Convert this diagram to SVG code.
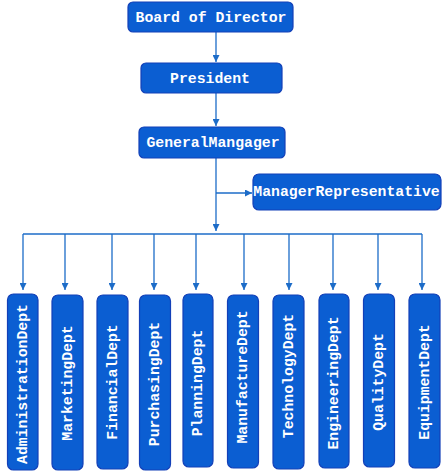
<svg xmlns="http://www.w3.org/2000/svg" width="447" height="473" viewBox="0 0 447 473">
<style>
.box{fill:#0b5ed2;stroke:#1340b8;stroke-width:1.2}
.t{fill:#fff;font-family:"Liberation Mono",monospace;font-weight:bold;font-size:14.8px;text-anchor:middle;dominant-baseline:central}
.ln{stroke:#1d6cc8;stroke-width:1.3;fill:none}
</style>
<defs>
<marker id="ah" viewBox="0 0 10 10" refX="10" refY="5" markerWidth="7" markerHeight="7" markerUnits="userSpaceOnUse" orient="auto">
<path d="M0,0 L10,5 L0,10 z" fill="#1d6cc8"/>
</marker>
</defs>
<rect width="447" height="473" fill="#fff"/>
<g id="connectors">
<line class="ln" x1="216" y1="32" x2="216" y2="62" marker-end="url(#ah)"/>
<line class="ln" x1="216" y1="93" x2="216" y2="126" marker-end="url(#ah)"/>
<line class="ln" x1="216" y1="158" x2="216" y2="231" marker-end="url(#ah)"/>
<line class="ln" x1="216" y1="193" x2="252" y2="193" marker-end="url(#ah)"/>
<line class="ln" x1="23" y1="234" x2="422" y2="234"/>
<line class="ln" x1="23" y1="234" x2="23" y2="290" marker-end="url(#ah)"/>
<line class="ln" x1="65" y1="234" x2="65" y2="290" marker-end="url(#ah)"/>
<line class="ln" x1="112" y1="234" x2="112" y2="290" marker-end="url(#ah)"/>
<line class="ln" x1="154" y1="234" x2="154" y2="290" marker-end="url(#ah)"/>
<line class="ln" x1="196" y1="234" x2="196" y2="290" marker-end="url(#ah)"/>
<line class="ln" x1="244" y1="234" x2="244" y2="290" marker-end="url(#ah)"/>
<line class="ln" x1="289" y1="234" x2="289" y2="290" marker-end="url(#ah)"/>
<line class="ln" x1="333" y1="234" x2="333" y2="290" marker-end="url(#ah)"/>
<line class="ln" x1="378" y1="234" x2="378" y2="290" marker-end="url(#ah)"/>
<line class="ln" x1="422" y1="234" x2="422" y2="290" marker-end="url(#ah)"/>
</g>
<g id="board"><rect class="box" x="128" y="2" width="165" height="30" rx="5"/><text class="t" x="211" y="17.5">Board of Director</text></g>
<g id="president"><rect class="box" x="141" y="63" width="141" height="30" rx="5"/><text class="t" x="210" y="78.5">President</text></g>
<g id="gm"><rect class="box" x="139" y="127" width="146" height="31" rx="5"/><text class="t" x="213" y="142.5">GeneralMangager</text></g>
<g id="mr"><rect class="box" x="253" y="174" width="188" height="36" rx="6"/><text class="t" x="346.5" y="192">ManagerRepresentative</text></g>
<g id="d1"><rect class="box" x="7.5" y="294" width="30.5" height="176" rx="6"/><text class="t" transform="translate(23,384) rotate(-90)">AdministrationDept</text></g>
<g id="d2"><rect class="box" x="52" y="295" width="31" height="175" rx="6"/><text class="t" transform="translate(67.5,383) rotate(-90)">MarketingDept</text></g>
<g id="d3"><rect class="box" x="97" y="295" width="31" height="174" rx="6"/><text class="t" transform="translate(112.5,382) rotate(-90)">FinancialDept</text></g>
<g id="d4"><rect class="box" x="139.5" y="295" width="31" height="175" rx="6"/><text class="t" transform="translate(155,384) rotate(-90)">PurchasingDept</text></g>
<g id="d5"><rect class="box" x="183" y="294" width="30" height="173" rx="6"/><text class="t" transform="translate(198,383) rotate(-90)">PlanningDept</text></g>
<g id="d6"><rect class="box" x="227.5" y="295" width="31" height="173" rx="6"/><text class="t" transform="translate(243,377) rotate(-90)">ManufactureDept</text></g>
<g id="d7"><rect class="box" x="273" y="295" width="31" height="174" rx="6"/><text class="t" transform="translate(288.5,376) rotate(-90)">TechnologyDept</text></g>
<g id="d8"><rect class="box" x="319" y="294" width="30" height="174" rx="6"/><text class="t" transform="translate(334,383) rotate(-90)">EngineeringDept</text></g>
<g id="d9"><rect class="box" x="363.5" y="294" width="31" height="173" rx="6"/><text class="t" transform="translate(379,382) rotate(-90)">QualityDept</text></g>
<g id="d10"><rect class="box" x="409" y="294" width="31" height="174" rx="6"/><text class="t" transform="translate(424.5,382) rotate(-90)">EquipmentDept</text></g>
</svg>
